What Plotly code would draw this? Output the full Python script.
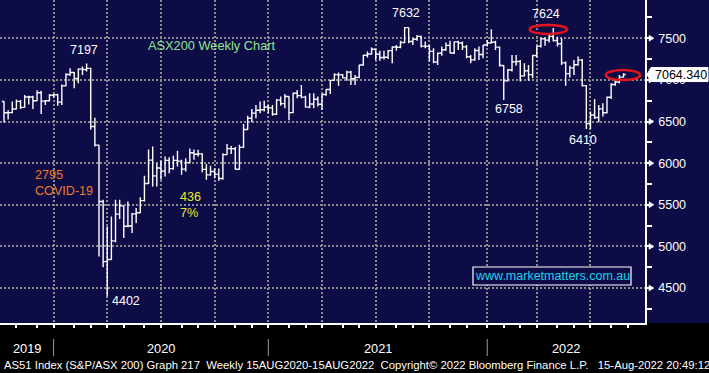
import pandas as pd
import plotly.graph_objects as go

# ---------------- data: AS51 weekly bars (week ending Friday) ----------------
open_2019 = [6740, 6605, 6607, 6651, 6742, 6670, 6795, 6794, 6750, 6846, 6745, 6750, 6816]
high_2019 = [6745, 6635, 6740, 6765, 6760, 6820, 6810, 6810, 6877, 6869, 6760, 6830, 6830]
low_2019 = [6487, 6525, 6600, 6645, 6650, 6665, 6705, 6650, 6745, 6590, 6700, 6740, 6790]
close_2019 = [6605, 6607, 6651, 6742, 6670, 6795, 6794, 6750, 6846, 6745, 6750, 6816, 6821]

open_2020 = [6821, 6733, 6929, 7065, 7090, 7017, 7130, 7125, 7139, 6441, 6217, 5539, 4817,
             4842, 5067, 5388, 5487, 5242, 5246, 5391, 5405, 5550, 5755, 6036, 5847, 5942,
             5904, 6033, 5934, 6034, 6024, 5928, 6006, 6126, 6107, 6111, 5925, 5859, 5900,
             5865, 5815, 6102, 6175, 6174, 5927, 6190, 6405, 6540, 6601, 6636, 6642, 6675]
high_2020 = [6835, 6945, 7080, 7140, 7095, 7140, 7160, 7197, 7145, 6545, 6222, 5560, 5240,
             5360, 5560, 5560, 5490, 5540, 5400, 5460, 5590, 5850, 6165, 6200, 6000, 6030,
             6080, 6070, 6090, 6150, 6040, 6060, 6175, 6165, 6160, 6120, 5990, 5970, 5935,
             5935, 6120, 6230, 6205, 6195, 6220, 6470, 6570, 6650, 6700, 6740, 6750, 6700]
low_2020 = [6690, 6700, 6925, 7050, 6900, 6960, 7060, 7100, 6405, 6200, 4880, 4750, 4402,
            4840, 5050, 5330, 5100, 5230, 5160, 5280, 5400, 5540, 5750, 5720, 5720, 5800,
            5840, 5880, 5920, 5960, 5860, 5900, 6000, 6040, 6080, 5890, 5800, 5850, 5820,
            5790, 5800, 6100, 6110, 5925, 5920, 6185, 6400, 6490, 6540, 6600, 6620, 6600]
close_2020 = [6733, 6929, 7065, 7090, 7017, 7130, 7125, 7139, 6441, 6217, 5539, 4817, 4842,
              5067, 5388, 5487, 5242, 5246, 5391, 5405, 5550, 5755, 6036, 5847, 5942, 5904,
              6033, 5934, 6034, 6024, 5928, 6006, 6126, 6107, 6111, 5925, 5859, 5900, 5865,
              5815, 6102, 6175, 6174, 5927, 6190, 6405, 6540, 6601, 6636, 6642, 6675, 6664]

open_2021 = [6664, 6587, 6757, 6715, 6800, 6607, 6840, 6811, 6793, 6673, 6710, 6767, 6708,
             6824, 6885, 6995, 7063, 7061, 7025, 7094, 7014, 7030, 7179, 7296, 7312, 7368,
             7308, 7269, 7272, 7352, 7395, 7393, 7450, 7628, 7461, 7489, 7523, 7406, 7403,
             7343, 7216, 7320, 7362, 7415, 7324, 7457, 7443, 7397, 7279, 7241, 7353, 7305, 7420]
high_2021 = [6700, 6770, 6800, 6830, 6805, 6845, 6880, 6940, 6810, 6840, 6840, 6800, 6830,
             6890, 7000, 7080, 7090, 7070, 7110, 7110, 7060, 7180, 7300, 7340, 7390, 7370,
             7350, 7350, 7360, 7400, 7420, 7470, 7632, 7630, 7500, 7540, 7530, 7460, 7420,
             7380, 7330, 7400, 7450, 7470, 7460, 7470, 7460, 7420, 7300, 7380, 7400, 7420, 7480]
low_2021 = [6570, 6580, 6690, 6660, 6516, 6600, 6780, 6780, 6670, 6660, 6660, 6680, 6640,
            6810, 6830, 6990, 6930, 7020, 6990, 6940, 6940, 7020, 7170, 7270, 7305, 7240,
            7230, 7245, 7250, 7200, 7350, 7380, 7440, 7440, 7420, 7470, 7390, 7380, 7220,
            7200, 7180, 7290, 7350, 7320, 7310, 7360, 7360, 7260, 7200, 7230, 7240, 7260, 7400]
close_2021 = [6587, 6757, 6715, 6800, 6607, 6840, 6811, 6793, 6673, 6710, 6767, 6708, 6824,
              6885, 6995, 7063, 7061, 7025, 7094, 7014, 7030, 7179, 7296, 7312, 7368, 7308,
              7269, 7272, 7352, 7395, 7393, 7450, 7628, 7461, 7489, 7523, 7406, 7403, 7343,
              7216, 7320, 7362, 7415, 7324, 7457, 7443, 7397, 7279, 7241, 7353, 7305, 7420, 7444]

open_2022 = [7444, 7453, 7394, 7174, 6988, 7120, 7217, 7221, 7049, 7111, 7064, 7293, 7406,
             7493, 7478, 7523, 7474, 7435, 7205, 7075, 7145, 7182, 7238, 6932, 6475, 6578,
             6548, 6652, 6605, 6792, 6945, 6975, 7033]
high_2022 = [7610, 7470, 7400, 7175, 7130, 7300, 7300, 7240, 7200, 7180, 7300, 7410, 7510,
             7510, 7540, 7624, 7520, 7500, 7220, 7170, 7240, 7280, 7250, 6935, 6620, 6770,
             6700, 6720, 6800, 6960, 7010, 7060, 7080]
low_2022 = [7440, 7360, 7160, 6758, 6980, 7100, 7170, 6980, 7040, 6990, 7020, 7270, 7390,
            7410, 7450, 7460, 7400, 7180, 6930, 7030, 7060, 7170, 6920, 6410, 6410, 6530,
            6490, 6560, 6600, 6770, 6930, 6960, 7030]
close_2022 = [7453, 7394, 7174, 6988, 7120, 7217, 7221, 7049, 7111, 7064, 7293, 7406, 7493,
              7478, 7523, 7474, 7435, 7205, 7075, 7145, 7182, 7238, 6932, 6475, 6578, 6548,
              6652, 6605, 6792, 6945, 6975, 7033, 7064.34]

weeks = pd.date_range("2019-10-04", "2022-08-19", freq="7D")
bar_open = open_2019 + open_2020 + open_2021 + open_2022
bar_high = high_2019 + high_2020 + high_2021 + high_2022
bar_low = low_2019 + low_2020 + low_2021 + low_2022
bar_close = close_2019 + close_2020 + close_2021 + close_2022
last_price = close_2022[-1]

y_ticks = [4500, 5000, 5500, 6000, 6500, 7000, 7500]
year_labels = ["2019", "2020", "2021", "2022"]

# ---------------- styling helpers ----------------
NAVY = "#0e0c46"
GRID = "#8c8c8c"
W_PLOT, H_PLOT = 645, 323
FONT = "Liberation Sans, Arial, sans-serif"


def px(x):
    return x / W_PLOT


def py(y):
    return 1 - y / H_PLOT


def bar_before(ts):
    d = ts - pd.Timedelta(days=1)
    while d.weekday() != 4:
        d -= pd.Timedelta(days=1)
    return d


month_marks = [bar_before(m) for m in pd.date_range("2019-10-01", "2022-09-01", freq="MS")]
quarter_marks = [bar_before(m) for m in pd.date_range("2019-10-01", "2022-07-01", freq="QS")]
year_marks = [bar_before(pd.Timestamp(f"{y}-01-01")) for y in (2020, 2021, 2022)]

fig = go.Figure(go.Ohlc(
    x=weeks, open=bar_open, high=bar_high, low=bar_low, close=bar_close,
    increasing=dict(line=dict(color="white", width=1.4)),
    decreasing=dict(line=dict(color="white", width=1.4)),
    tickwidth=0.5, hoverinfo="skip", showlegend=False,
))

shapes = []
# black footer band
shapes.append(dict(type="rect", xref="paper", yref="paper", x0=-0.1, x1=1.2, y0=-0.3, y1=0,
                   fillcolor="black", line=dict(width=0), layer="below"))
# year separators
for d in year_marks:
    shapes.append(dict(type="line", xref="x", yref="paper", x0=d, x1=d,
                       y0=py(339), y1=py(356), line=dict(color="#9a9a9a", width=1)))
# arrows at major y ticks
for v in y_ticks:
    shapes.append(dict(type="path", xref="paper", yref="y", xsizemode="pixel", ysizemode="pixel",
                       xanchor=1, yanchor=v, path="M4,-3 L9,0 L4,3 Z",
                       fillcolor="white", line=dict(color="white", width=0.5)))
# red ellipses
shapes.append(dict(type="circle", xref="x", yref="y", x0="2022-03-13", x1="2022-05-15",
                   y0=7552, y1=7660, line=dict(color="#e5141c", width=2.5)))
shapes.append(dict(type="circle", xref="x", yref="y", x0="2022-07-20", x1="2022-09-16",
                   y0=6998, y1=7119, line=dict(color="#e5141c", width=2.5)))
# website box
shapes.append(dict(type="rect", xref="paper", yref="paper", x0=px(473), x1=px(631),
                   y0=py(285), y1=py(267), fillcolor=NAVY, line=dict(color="white", width=1.2)))
# last price tag
shapes.append(dict(type="path", xref="paper", yref="y", xsizemode="pixel", ysizemode="pixel",
                   xanchor=1, yanchor=last_price, path="M2,0 L6,7 L63,7 L63,-7 L6,-7 Z",
                   fillcolor="white", line=dict(color="white", width=1)))

ann = []


def label(text, x, y, color="white", size=12.5, family=FONT, xanchor="center"):
    ann.append(dict(text=text, x=px(x), y=py(y), xref="paper", yref="paper", showarrow=False,
                    xanchor=xanchor, yanchor="middle", font=dict(color=color, size=size, family=family)))


label("7197", 84, 50)
label("7632", 406, 13)
label("7624", 546, 14)
label("6758", 509, 109)
label("6410", 583, 140)
label("4402", 126, 301)
label("ASX200 Weekly Chart", 145.5, 46, color="#8ee68c", size=12.8, xanchor="left")
label("2795", 33, 175, color="#ef7d22", size=12.6, xanchor="left")
label("COVID-19", 33, 191, color="#ef7d22", size=12.6, xanchor="left")
label("436", 178, 197, color="#e9e82a", size=12.6, xanchor="left")
label("7%", 178, 213, color="#e9e82a", size=12.6, xanchor="left")
label("www.marketmatters.com.au", 552, 276, color="#1ed2ea", size=12.5)
ann.append(dict(text=f"{last_price:.3f}", x=px(681), y=last_price, xref="paper", yref="y",
                showarrow=False, xanchor="center", yanchor="middle",
                font=dict(color="black", size=12.5, family=FONT)))

year_pos = [27, 161, 378, 566]
for t, x in zip(year_labels, year_pos):
    label(t, x, 348, size=12.8)

nb = "\u00a0"
footer = ("AS51 Index (S&amp;P/ASX 200) Graph 217" + nb * 2 + "Weekly 15AUG2020-15AUG2022" + nb * 2
          + "Copyright\u00a9 2022 Bloomberg Finance L.P." + nb * 3 + "15-Aug-2022 20:49:12")
label(footer, 2, 365, size=11.3, xanchor="left")

fig.update_layout(
    width=709, height=373,
    margin=dict(l=0, r=64, t=0, b=50, pad=0),
    paper_bgcolor=NAVY, plot_bgcolor=NAVY,
    showlegend=False,
    shapes=shapes, annotations=ann,
    xaxis=dict(
        type="date", range=["2019-09-27 05:00", "2022-09-24 10:00"],
        rangeslider=dict(visible=False),
        tickmode="array", tickvals=quarter_marks, showticklabels=False,
        ticks="outside", ticklen=3, tickcolor="white", tickwidth=1.5,
        showgrid=True, gridcolor=GRID, gridwidth=2, griddash="2px,2px",
        showline=True, linecolor="white", linewidth=1.5, zeroline=False,
        minor=dict(tickmode="array", tickvals=month_marks, ticks="outside", ticklen=3,
                   tickcolor="white", tickwidth=1.5, showgrid=False),
        fixedrange=True,
    ),
    yaxis=dict(
        side="right", range=[4080, 7960],
        tickmode="array", tickvals=y_ticks, ticktext=[str(v) for v in y_ticks],
        ticks="outside", ticklen=5, tickcolor="white", tickwidth=1.5,
        ticklabelstandoff=4,
        tickfont=dict(color="white", size=12.5, family=FONT),
        showgrid=True, gridcolor=GRID, gridwidth=2, griddash="2px,2px",
        showline=True, linecolor="white", linewidth=1.5, zeroline=False,
        minor=dict(dtick=250, tick0=0, ticks="outside", ticklen=5, tickcolor="white",
                   tickwidth=1.5, showgrid=False),
        fixedrange=True,
    ),
)

fig.write_html(
    "out.html",
    config={"displayModeBar": False},
    post_script="document.body.style.margin='0px';document.body.style.overflow='hidden';",
)
